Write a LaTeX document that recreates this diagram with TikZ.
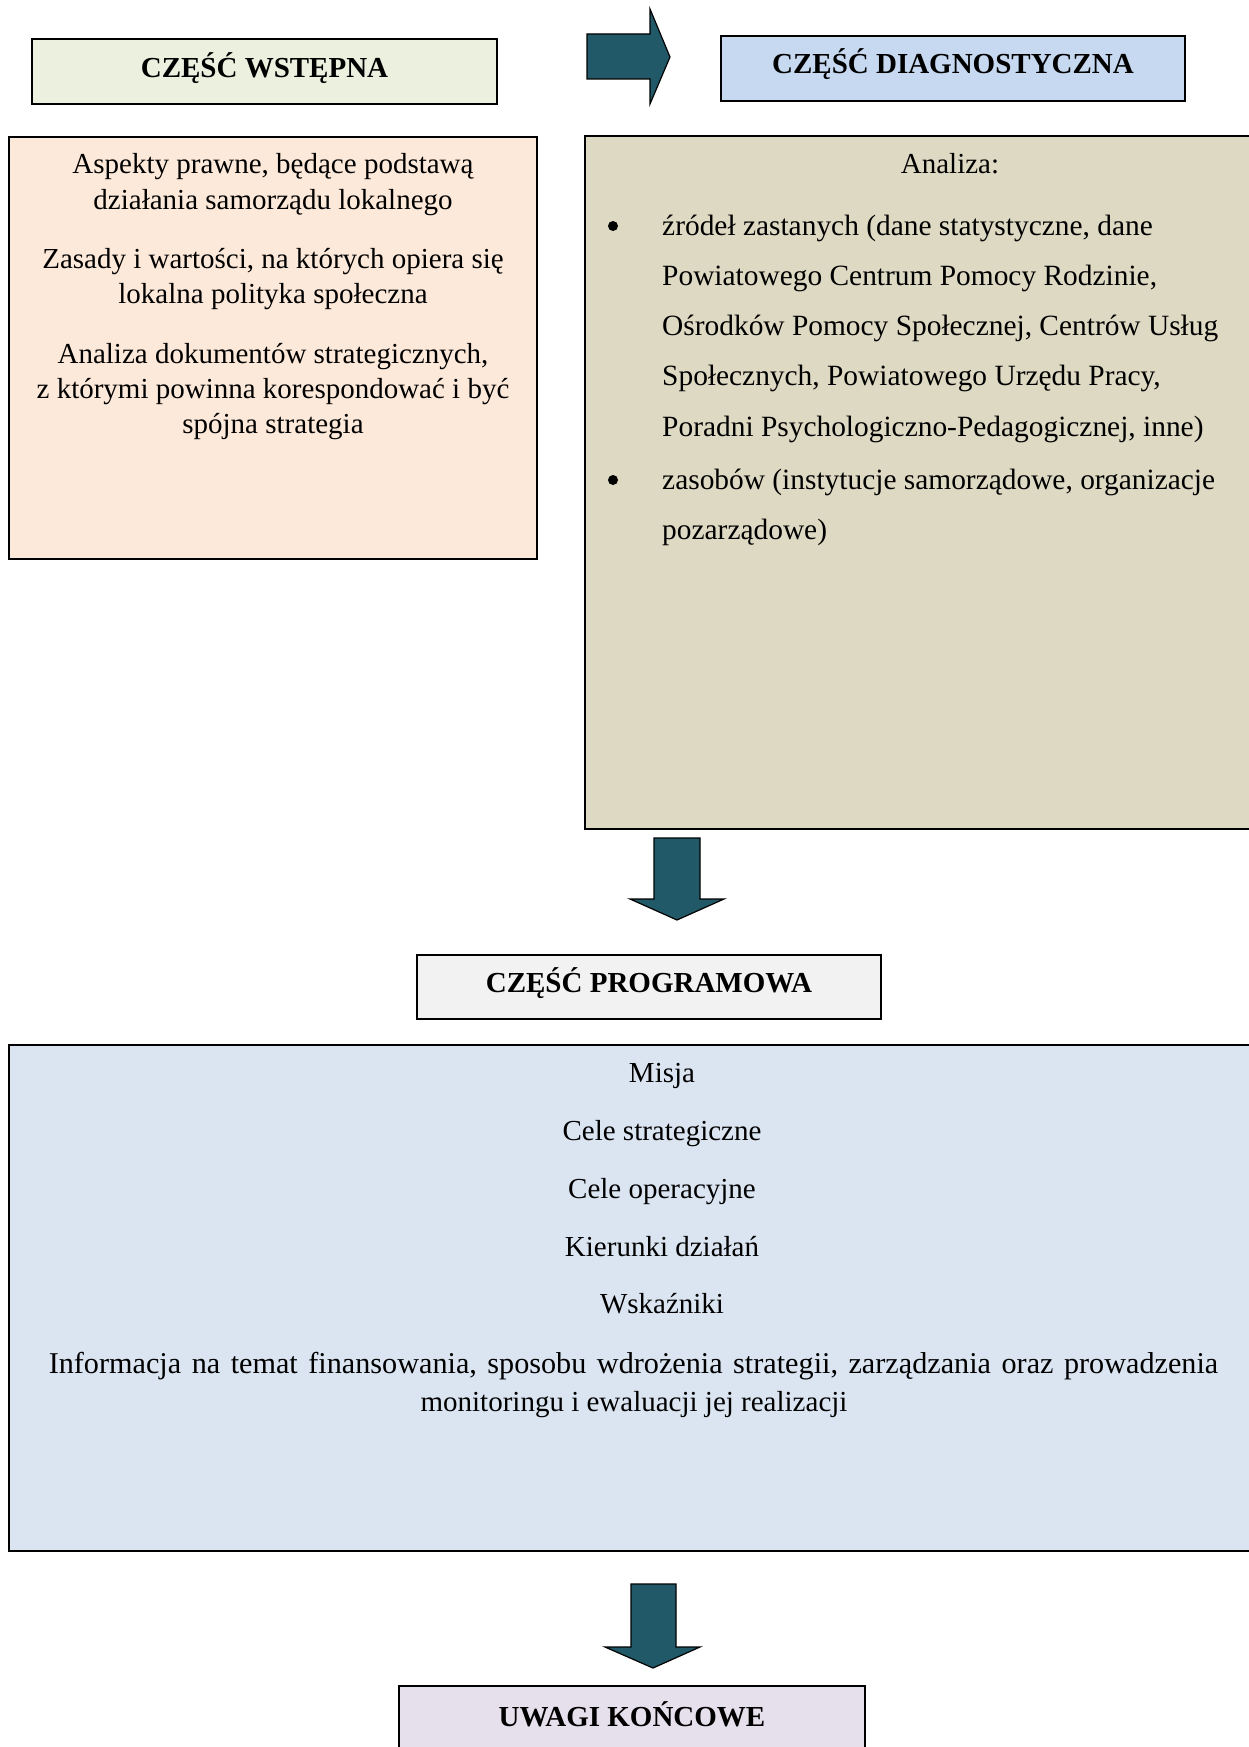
\documentclass[tikz,border=0pt]{standalone}
\usepackage{fontspec}
\setmainfont{Liberation Serif}
\definecolor{wstc}{HTML}{EBF1DE}
\definecolor{pinkc}{HTML}{FDE9D9}
\definecolor{diaghc}{HTML}{C6D9F1}
\definecolor{diagc}{HTML}{DDD9C3}
\definecolor{progc}{HTML}{F2F2F2}
\definecolor{bluec}{HTML}{DBE5F1}
\definecolor{uwagic}{HTML}{E5E0EC}
\definecolor{arrowc}{HTML}{215968}
\begin{document}
\begin{tikzpicture}[x=1pt,y=-1pt,
  box/.style={draw=black, line width=1.5pt, inner sep=0pt, outer sep=0pt, anchor=north west},
  headtxt/.style={font=\fontsize{29}{35}\selectfont\bfseries, anchor=base, inner sep=0pt},
  bodytxt/.style={font=\fontsize{29}{35}\selectfont, anchor=base, inner sep=0pt},
  widetxt/.style={font=\fontsize{30.2}{35}\selectfont, anchor=base, inner sep=0pt},
  diagtxt/.style={font=\fontsize{29.4}{35}\selectfont, anchor=base west, inner sep=0pt},
  bulletdot/.style={circle, fill=black, minimum size=10pt, inner sep=0pt},
  bigarrow/.style={fill=arrowc, draw=black, line width=1.2pt, line join=miter}]
\useasboundingbox (0,0) rectangle (1249,1747);
\clip (0,0) rectangle (1249,1747);
\fill[white] (0,0) rectangle (1249,1747);

% boxes
\node[box, fill=wstc, minimum width=465pt, minimum height=65pt] (wst) at (32,39) {};
\node[box, fill=diaghc, minimum width=464pt, minimum height=65pt] (diagh) at (721,36) {};
\node[box, fill=pinkc, minimum width=528pt, minimum height=422pt] (pink) at (9,137) {};
\node[box, fill=diagc, minimum width=730pt, minimum height=693pt] (diag) at (585,136) {};
\node[box, fill=progc, minimum width=464pt, minimum height=64pt] (prog) at (417,955) {};
\node[box, fill=bluec, minimum width=1306pt, minimum height=506pt, line width=2.5pt] (blue) at (9,1045) {};
\node[box, fill=uwagic, minimum width=466pt, minimum height=80pt] (uwagi) at (399,1686) {};

% arrows
\draw[bigarrow] (587,34) -- (650,34) -- (650,9) -- (670,57) -- (650,104) -- (650,79) -- (587,79) -- cycle;
\draw[bigarrow] (654,838) -- (700,838) -- (700,899) -- (724,899) -- (677,920) -- (630,899) -- (654,899) -- cycle;
\draw[bigarrow] (631,1584) -- (676,1584) -- (676,1647) -- (700,1647) -- (653,1668) -- (605,1647) -- (631,1647) -- cycle;

% headings
\node[headtxt] (twst) at (264.5,78) {CZĘŚĆ WSTĘPNA};
\node[headtxt] (tdiagh) at (953,74) {CZĘŚĆ DIAGNOSTYCZNA};
\node[headtxt] (tprog) at (649,992) {CZĘŚĆ PROGRAMOWA};
\node[headtxt] (tuwagi) at (632,1726) {UWAGI KOŃCOWE};

% left box text
\node[bodytxt] (p1) at (273,174) {Aspekty prawne, będące podstawą};
\node[bodytxt] (p2) at (273,209) {działania samorządu lokalnego};
\node[bodytxt] (p3) at (273,268.5) {Zasady i wartości, na których opiera się};
\node[bodytxt] (p4) at (273,303.5) {lokalna polityka społeczna};
\node[bodytxt] (p5) at (273,363) {Analiza dokumentów strategicznych,};
\node[bodytxt] (p6) at (273,398) {z którymi powinna korespondować i być};
\node[bodytxt] (p7) at (273,433) {spójna strategia};

% diagnostic box text
\node[bodytxt] (d0) at (950,174) {Analiza:};
\node[bulletdot] (b1) at (613,226) {};
\node[diagtxt] (d1) at (662,235) {źródeł zastanych (dane statystyczne, dane};
\node[diagtxt] (d2) at (662,285) {Powiatowego Centrum Pomocy Rodzinie,};
\node[diagtxt] (d3) at (662,335) {Ośrodków Pomocy Społecznej, Centrów Usług};
\node[diagtxt] (d4) at (662,385.5) {Społecznych, Powiatowego Urzędu Pracy,};
\node[diagtxt] (d5) at (662,436) {Poradni Psychologiczno-Pedagogicznej, inne)};
\node[bulletdot] (b2) at (613,480) {};
\node[diagtxt] (d6) at (662,489) {zasobów (instytucje samorządowe, organizacje};
\node[diagtxt] (d7) at (662,539.5) {pozarządowe)};

% programme box text
\node[bodytxt] (m1) at (662,1082.5) {Misja};
\node[bodytxt] (m2) at (662,1140.5) {Cele strategiczne};
\node[bodytxt] (m3) at (662,1198.5) {Cele operacyjne};
\node[bodytxt] (m4) at (662,1256) {Kierunki działań};
\node[bodytxt] (m5) at (662,1313.5) {Wskaźniki};
\node[widetxt] (m6) at (633.5,1373.5) {\spaceskip=10.5pt plus 1pt\relax Informacja na temat finansowania, sposobu wdrożenia strategii, zarządzania oraz prowadzenia};
\node[bodytxt] (m7) at (634,1411.5) {monitoringu i ewaluacji jej realizacji};
\end{tikzpicture}
\end{document}
